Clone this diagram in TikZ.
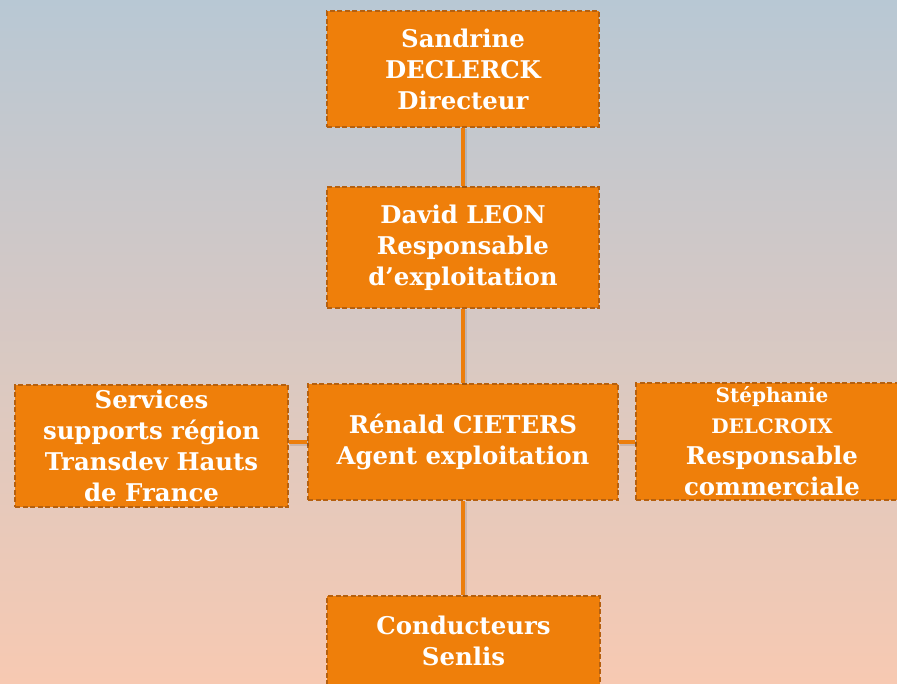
\documentclass[tikz,border=0pt]{standalone}
\usepackage{fontspec}
\setmainfont{DejaVu Serif}
\usetikzlibrary{positioning}
\definecolor{bgtop}{HTML}{B8C8D4}
\definecolor{bgbottom}{HTML}{F7C9B2}
\definecolor{postfill}{HTML}{EF7F0A}
\definecolor{postedge}{HTML}{B5600F}
\definecolor{linkcol}{HTML}{EC7E0C}
\tikzset{
  post/.style={draw=postedge,fill=postfill,dash pattern=on 5pt off 2.5pt,line width=1.7pt,
    text=white,align=center,inner sep=0pt,minimum width=272pt,minimum height=116pt,
    font=\bfseries\fontsize{24.4}{31}\selectfont},
  link/.style={draw=linkcol,line width=4.5pt,
    preaction={draw=black,opacity=.1,line width=4.5pt,transform canvas={shift={(1.5pt,-1.5pt)}}}},
}
\newcommand{\smallline}{\fontsize{20}{27}\selectfont}
\begin{document}
\begin{tikzpicture}[x=1pt,y=-1pt]
  \useasboundingbox (0,0) rectangle (897,683);
  \clip (0,0) rectangle (897,683);
  \shade[top color=bgtop,bottom color=bgbottom] (0,0) rectangle (897,683);
  % chain of command
  \node[post] (dir) at (463,69) {Sandrine\\DECLERCK\\Directeur};
  \node[post,minimum height=121pt] (resp) at (463,247.5) {David LEON\\Responsable\\d’exploitation};
  \node[post,minimum width=310pt] (agent) at (463,442) {Rénald CIETERS\\Agent exploitation};
  \node[post,minimum width=273pt,minimum height=122pt] (supp) at (151.5,446) {Services\\supports région\\Transdev Hauts\\de France};
  \node[post,minimum height=117pt] (comm) at (772,441.5) {{\smallline Stéphanie}\\{\smallline DELCROIX}\\Responsable\\commerciale};
  \node[post,minimum width=273pt,minimum height=90pt] (cond) at (463.5,641) {Conducteurs\\Senlis};
  \draw[link] (dir.south) -- (resp.north);
  \draw[link] (resp.south) -- (agent.north);
  \draw[link] (agent.south) -- (agent.south |- cond.north);
  \draw[link] (agent.west) -- (agent.west -| supp.east);
  \draw[link] (agent.east) -- (agent.east -| comm.west);
\end{tikzpicture}
\end{document}
